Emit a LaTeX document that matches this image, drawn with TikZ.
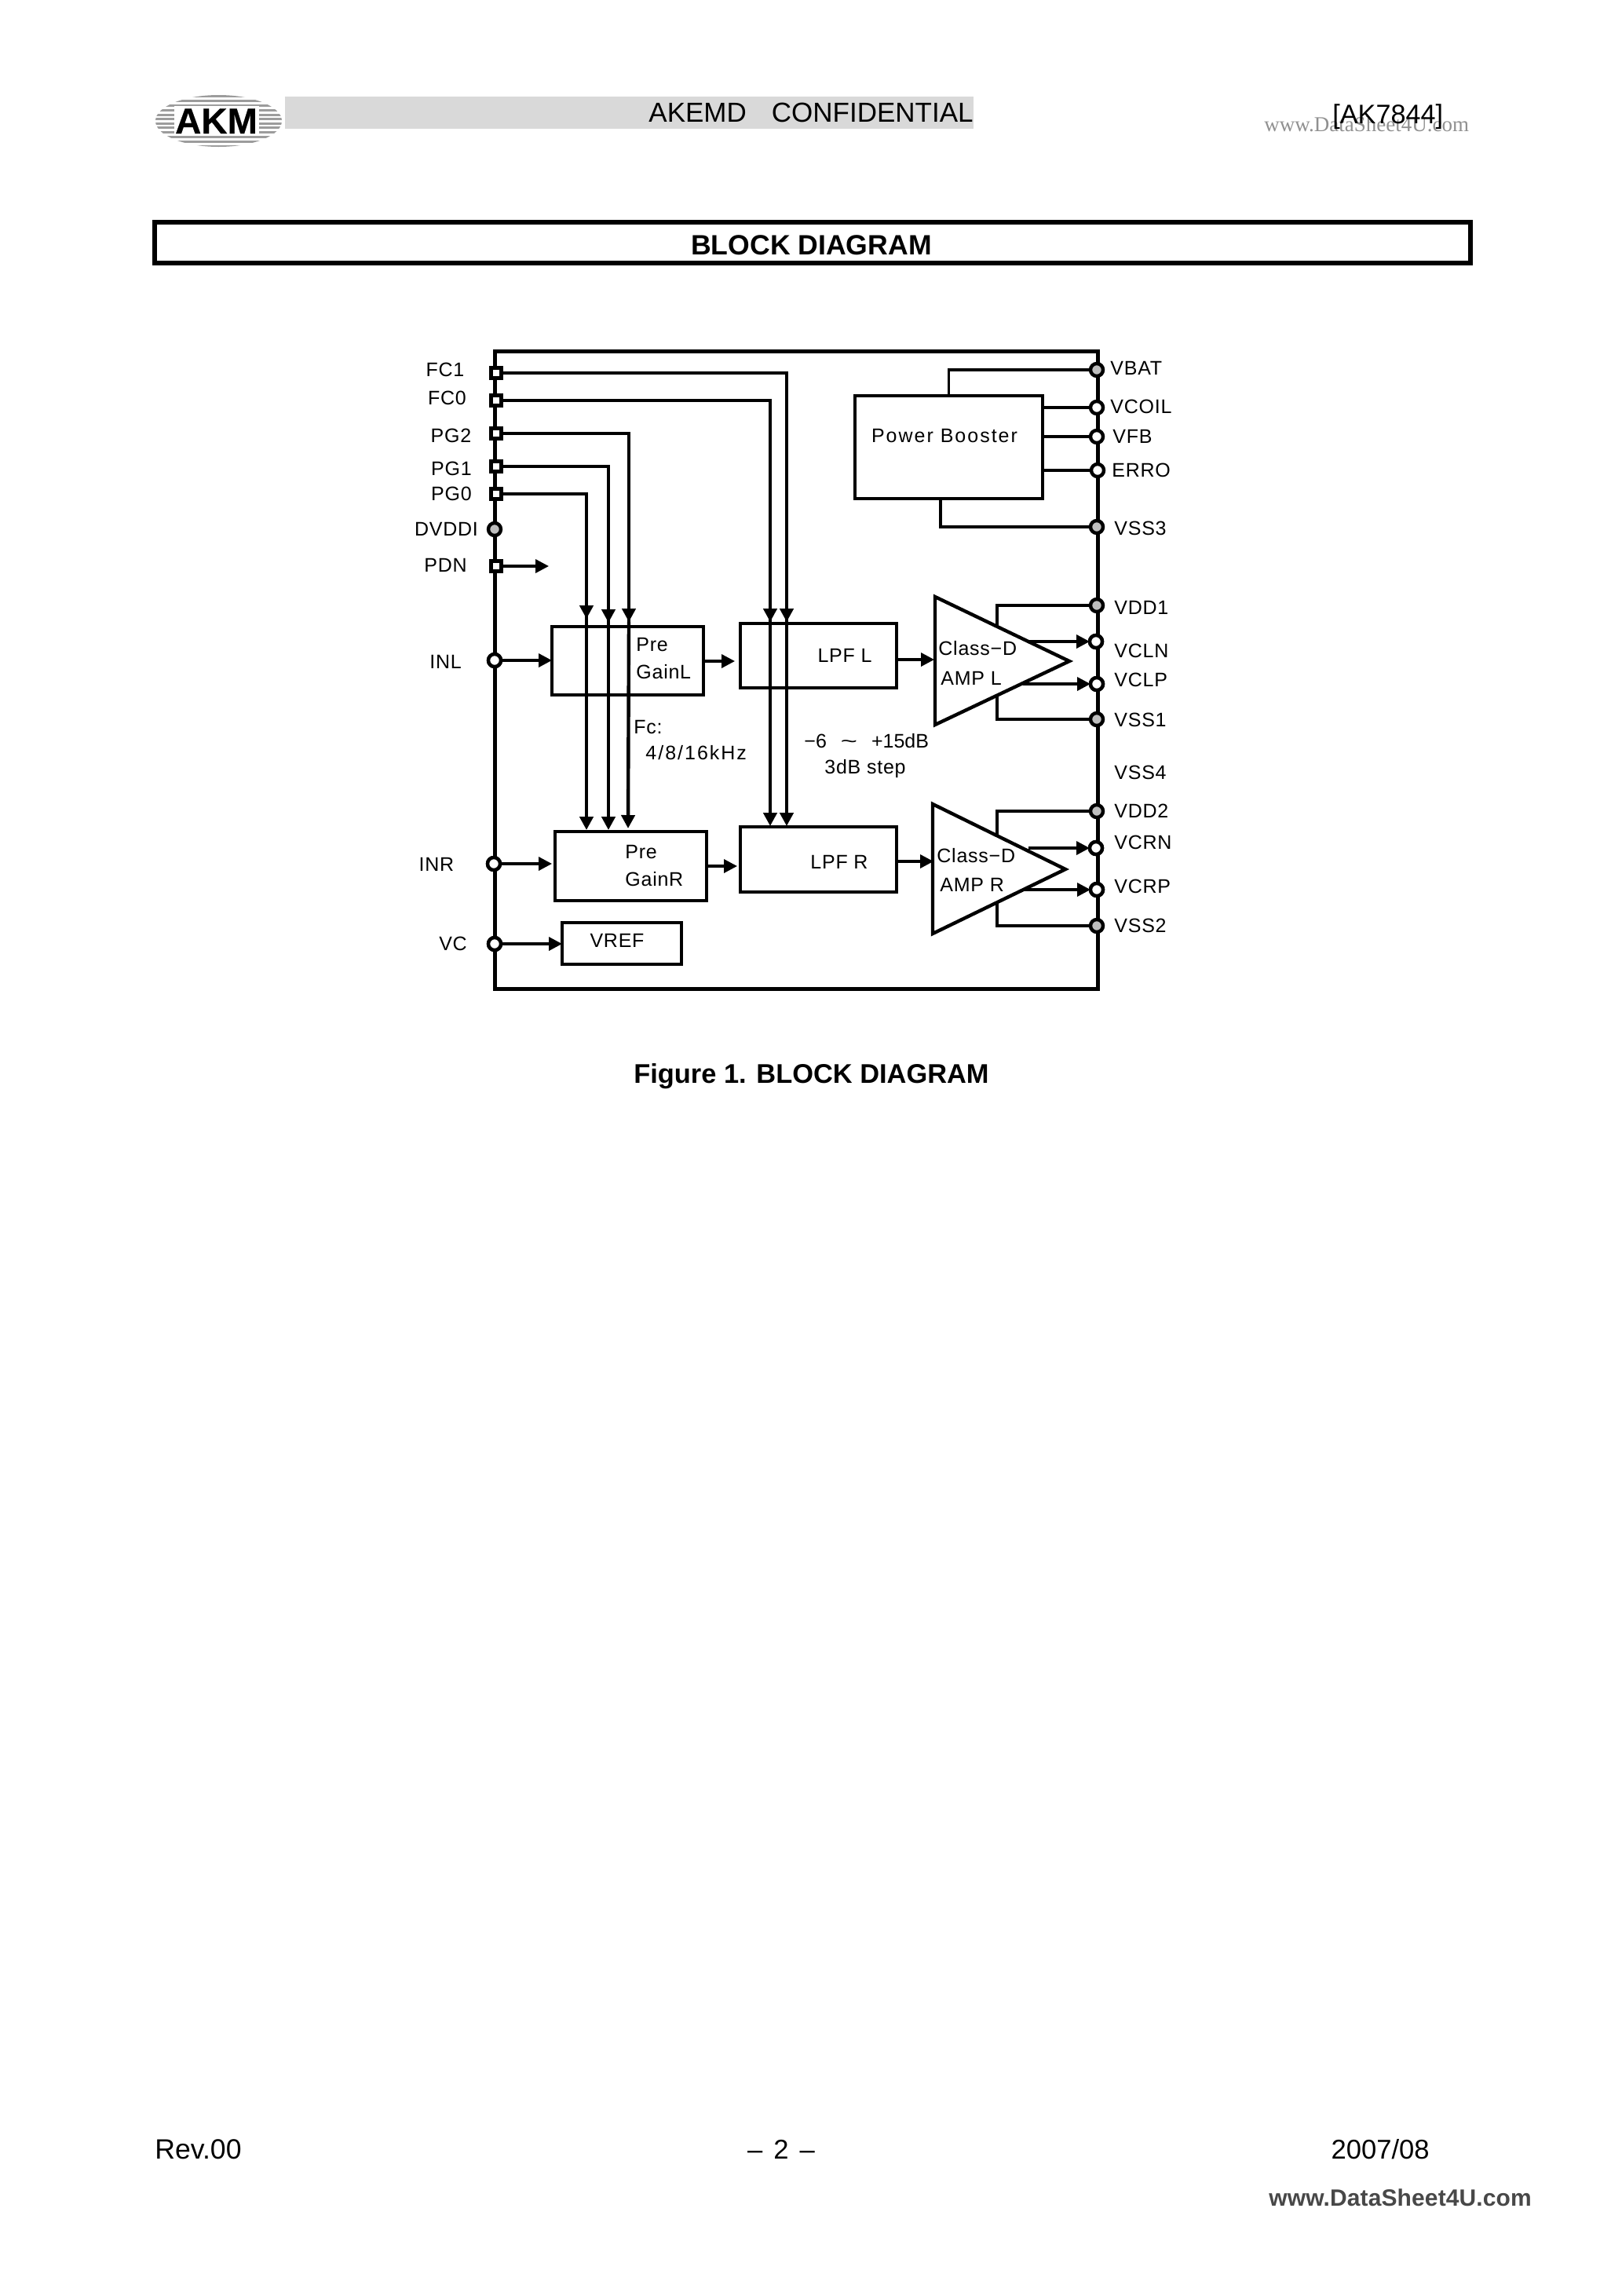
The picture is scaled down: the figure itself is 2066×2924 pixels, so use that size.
\documentclass[tikz,border=0pt]{standalone}
\usepackage{fontspec}
\setmainfont{Liberation Sans}
\newfontfamily\labfont[LetterSpace=3]{Liberation Sans}
\newfontfamily\spaced[LetterSpace=8]{Liberation Sans}
\newfontfamily\wmserif{Liberation Serif}
\newfontfamily\wmbold[LetterSpace=0.4]{Liberation Sans Bold}
\newfontfamily\logofont[FakeBold=0.5]{Liberation Sans Bold}
\usetikzlibrary{arrows.meta,calc}
\definecolor{pingrey}{HTML}{BEBEBE}
\definecolor{bargrey}{HTML}{D9D9D9}
\definecolor{logogrey}{HTML}{9C9C9C}
\definecolor{wmgrey}{HTML}{909090}
\definecolor{wmdark}{HTML}{484848}
\tikzset{
  block/.style={draw=black,line width=2.1pt,fill=white,inner sep=0pt,outer sep=0pt},
  chipbox/.style={draw=black,line width=2.5pt,inner sep=0pt,outer sep=0pt,minimum width=384pt,minimum height=406pt},
  sqpin/.style={draw=black,line width=2.2pt,fill=white,inner sep=0pt,outer sep=0pt,minimum size=6.5pt},
  cpin/.style={circle,draw=black,line width=2.2pt,fill=white,inner sep=0pt,outer sep=0pt,minimum size=8pt},
  gpin/.style={cpin,fill=pingrey},
  wire/.style={draw=black,line width=1.75pt},
  bus/.style={draw=black,line width=2.2pt},
  arr/.style={wire,-{Triangle[length=8.5pt,width=8.5pt]}},
  busarr/.style={bus,-{Triangle[length=8.5pt,width=8.5pt]}},
  lab/.style={font=\labfont\fontsize{12.5}{14}\selectfont,inner sep=0pt,text height=9pt,text depth=0pt},
  tri/.style={draw=black,line width=2.2pt,miter limit=10,line join=miter},
  head/.style={inner sep=0pt,text height=12.5pt,text depth=0pt,font=\fontsize{17.3}{20}\selectfont},
}
\begin{document}
\begin{tikzpicture}[x=0.5pt,y=-0.5pt]
\useasboundingbox (0,0) rectangle (2066,2924);
% header
\begin{scope}
\clip (278.5,154) ellipse [x radius=80.5,y radius=33];
\foreach \yy in {122.5,128.5,134.5,140.5,146,151.5,157,162.5,168.5,174.5,180.5,186}
  \fill[logogrey] (190,\yy-1.5) rectangle (370,\yy+1.5);
\end{scope}
\node[inner sep=0pt,outer sep=0pt,fill=white,minimum width=54pt,minimum height=19pt] (logoback) at (275.5,153.5) {};
\node[inner sep=0pt,text height=16.5pt,text depth=0pt,font=\logofont\fontsize{23}{26}\selectfont] (logo) at (275.5,153.5) {AKM};
\node[fill=bargrey,inner sep=0pt,outer sep=0pt,minimum width=438.5pt,minimum height=20.5pt] (bar) at (801.5,143.5) {};
\node[head,anchor=east,font=\fontsize{17.5}{20}\selectfont] (conf) at (1240,143) {AKEMD\hspace{16pt}CONFIDENTIAL};
\node[inner sep=0pt,font=\wmserif\fontsize{13.5}{16}\selectfont,text=wmgrey,anchor=west] (wm1) at (1610,158) {www.DataSheet4U.com};
\node[head,anchor=west,font=\fontsize{17.1}{20}\selectfont] (part) at (1697,145) {[AK7844]};
\node[draw=black,line width=3pt,inner sep=0pt,outer sep=0pt,minimum width=838pt,minimum height=26pt] (titlebox) at (1035,309) {};
\node[head,font=\fontsize{17.8}{20}\selectfont\bfseries] (title) at (1033.5,312) {BLOCK DIAGRAM};
% chip
\node[chipbox] (chip) at (1014,853) {};
% blocks
\node[block,minimum width=96.5pt,minimum height=43.5pt] (pgl) at (799.5,841.5) {};
\node[block,minimum width=96.5pt,minimum height=44pt] (pgr) at (803.5,1103) {};
\node[block,line width=1.9pt,minimum width=99.5pt,minimum height=41pt] (lpfl) at (1042.5,835) {};
\node[block,line width=1.7pt,minimum width=99.5pt,minimum height=41.5pt] (lpfr) at (1042.5,1094.5) {};
\node[block,minimum width=119.5pt,minimum height=65.5pt] (boost) at (1208.5,569.5) {};
\node[block,minimum width=76pt,minimum height=26.5pt] (vref) at (792,1201.5) {};
% amplifiers
\coordinate (alt) at (1191,760); \coordinate (alb) at (1191,923); \coordinate (ala) at (1362,842);
\coordinate (art) at (1188,1024); \coordinate (arb) at (1188,1189); \coordinate (ara) at (1357,1107);
\draw[tri] (alt) -- (ala) -- (alb) -- cycle;
\draw[tri] (art) -- (ara) -- (arb) -- cycle;
% pins
\node[sqpin] (fc1) at (632,475) {};
\node[sqpin] (fc0) at (632,510) {};
\node[sqpin] (pg2) at (632,552) {};
\node[sqpin] (pg1) at (632,594) {};
\node[sqpin] (pg0) at (632,629) {};
\node[gpin] (dvddi) at (630,674) {};
\node[sqpin] (pdn) at (632,721) {};
\node[cpin] (inl) at (630,841) {};
\node[cpin] (inr) at (629,1100) {};
\node[cpin] (vc) at (630,1202) {};
\node[gpin] (vbat) at (1397,471) {};
\node[cpin] (vcoil) at (1397,519) {};
\node[cpin] (vfb) at (1397,556) {};
\node[cpin] (erro) at (1398,599) {};
\node[gpin] (vss3) at (1397,671) {};
\node[gpin] (vdd1) at (1397,771) {};
\node[cpin] (vcln) at (1396,817) {};
\node[cpin] (vclp) at (1397,871) {};
\node[gpin] (vss1) at (1397,916) {};
\node[gpin] (vdd2) at (1397,1033) {};
\node[cpin] (vcrn) at (1396,1080) {};
\node[cpin] (vcrp) at (1397,1133) {};
\node[gpin] (vss2) at (1397,1179) {};
% control buses, with arrow stops
\coordinate (fc1a) at (1002,792); \coordinate (fc1b) at (1002,1052);
\coordinate (fc0a) at (981,792);  \coordinate (fc0b) at (981,1052);
\coordinate (pg2a) at (801,792);  \coordinate (pg2b) at (800,1055);
\coordinate (pg1a) at (775,793);  \coordinate (pg1b) at (775,1057);
\coordinate (pg0a) at (747,788);  \coordinate (pg0b) at (747,1057);
\foreach \p in {fc1,fc0,pg2,pg1,pg0}{
  \draw[wire] (\p.east) -| (\p a);
  \draw[busarr] (\p.east -| \p a) -- (\p a);
  \draw[busarr] (\p a) -- (\p b);
}
\coordinate (pdnt) at (699,721);
\draw[arr] (pdn.east) -- (pdnt);
% signal path
\draw[arr] (inl.east) -- (pgl.west |- inl);
\draw[arr] (inr.east) -- (703,1100);
\draw[arr] (vc.east) -- (vref.west |- vc);
\draw[arr] (pgl.east) ++(0,0.5) -- (936,842);
\draw[arr] (pgr.east) -- (939,1103);
\draw[arr] (lpfl.east) ++(0,5) -- (1190,840);
\draw[arr] (lpfr.east) ++(0,2.5) -- (1189,1097);
% power booster
\draw[wire] (vbat.west) -| (boost.north);
\draw[wire] (boost.east |- vcoil) -- (vcoil.west);
\draw[wire] (boost.east |- vfb) -- (vfb.west);
\draw[wire] (boost.east |- erro) -- (erro.west);
\coordinate (bss) at (1198,635);
\draw[wire] (vss3.west) -| (bss);
% amp supply and outputs
\coordinate (v1t) at (1270,798); \coordinate (s1t) at (1270,887);
\coordinate (v2t) at (1270,1063); \coordinate (s2t) at (1270,1148);
\draw[wire] (vdd1.west) -| (v1t);
\draw[wire] (vss1.west) -| (s1t);
\draw[wire] (vdd2.west) -| (v2t);
\draw[wire] (vss2.west) -| (s2t);
\coordinate (lno) at (1310,817); \coordinate (lpo) at (1303,871);
\coordinate (rno) at (1310,1080); \coordinate (rpo) at (1302,1133);
\draw[arr] (lno) -- (vcln.west);
\draw[arr] (lpo) -- (vclp.west);
\draw[arr] (rno) -- (vcrn.west);
\draw[arr] (rpo) -- (vcrp.west);
% redraw pins above wires
\foreach \p/\s in {fc1/sqpin,fc0/sqpin,pg2/sqpin,pg1/sqpin,pg0/sqpin,pdn/sqpin,inl/cpin,inr/cpin,vc/cpin,vcln/cpin,vclp/cpin,vcrn/cpin,vcrp/cpin}
  \node[\s] at (\p.center) {};
% left labels
\node[lab] (tfc1) at (567,470) {FC1};
\node[lab] (tfc0) at (569.5,506) {FC0};
\node[lab] (tpg2) at (574.5,554) {PG2};
\node[lab] (tpg1) at (575,596) {PG1};
\node[lab] (tpg0) at (575,628) {PG0};
\node[lab] (tdvddi) at (568.5,673) {DVDDI};
\node[lab] (tpdn) at (567.5,719) {PDN};
\node[lab] (tinl) at (567.5,842) {INL};
\node[lab] (tinr) at (556,1100) {INR};
\node[lab] (tvc) at (577,1201) {VC};
% right labels
\node[lab,anchor=west] (tvbat) at (1414,468) {VBAT};
\node[lab,anchor=west] (tvcoil) at (1414,517) {VCOIL};
\node[lab,anchor=west] (tvfb) at (1417,555) {VFB};
\node[lab,anchor=west] (terro) at (1416,598) {ERRO};
\node[lab,anchor=west] (tvss3) at (1419,672) {VSS3};
\node[lab,anchor=west] (tvdd1) at (1419,773) {VDD1};
\node[lab,anchor=west] (tvcln) at (1419,828) {VCLN};
\node[lab,anchor=west] (tvclp) at (1419,865) {VCLP};
\node[lab,anchor=west] (tvss1) at (1419,916) {VSS1};
\node[lab,anchor=west] (tvss4) at (1419,983) {VSS4};
\node[lab,anchor=west] (tvdd2) at (1419,1032) {VDD2};
\node[lab,anchor=west] (tvcrn) at (1419,1072) {VCRN};
\node[lab,anchor=west] (tvcrp) at (1419,1128) {VCRP};
\node[lab,anchor=west] (tvss2) at (1419,1178) {VSS2};
% block texts
\node[lab,anchor=west] (tpglp) at (810,820) {Pre};
\node[lab,anchor=west] (tpglg) at (810,855) {GainL};
\node[lab,anchor=west] (tpgrp) at (796,1084) {Pre};
\node[lab,anchor=west] (tpgrg) at (796,1119) {GainR};
\node[lab] (tlpfl) at (1076,834) {LPF L};
\node[lab] (tlpfr) at (1069,1097) {LPF R};
\node[lab,font=\spaced\fontsize{12.5}{14}\selectfont] (tboost) at (1203,554) {Power Booster};
\node[lab] (tvref) at (786,1197) {VREF};
\node[lab,anchor=west] (tcdl) at (1195,825) {Class−D};
\node[lab,anchor=west] (taml) at (1198,863) {AMP L};
\node[lab,anchor=west] (tcdr) at (1193,1089) {Class−D};
\node[lab,anchor=west] (tamr) at (1197,1126) {AMP R};
\node[lab,anchor=west] (tfc) at (807,925) {Fc:};
\node[lab,anchor=west,font=\spaced\fontsize{12.5}{14}\selectfont] (tfcv) at (822,958) {4/8/16kHz};
\node[lab,anchor=west,font=\fontsize{12.5}{14}\selectfont] (tgain) at (1024,943) {−6\hspace{9pt}\scalebox{1.45}[1]{\char"007E}\hspace{9pt}+15dB};
\node[lab,anchor=west] (tstep) at (1050,976) {3dB step};
% caption and footer
\node[head,font=\fontsize{17.2}{20}\selectfont\bfseries] (cap) at (1033.5,1367) {Figure 1. BLOCK DIAGRAM};
\node[head,anchor=west,font=\fontsize{17.8}{20}\selectfont] (rev) at (197,2737) {Rev.00};
\node[head] (page) at (995,2737) {–\hspace{7pt}2\hspace{7pt}–};
\node[head,anchor=east] (date) at (1821,2737) {2007/08};
\node[inner sep=0pt,text height=11pt,text depth=0pt,font=\wmbold\fontsize{15}{18}\selectfont,text=wmdark,anchor=west] (wm2) at (1616,2798) {www.DataSheet4U.com};
\end{tikzpicture}
\end{document}
